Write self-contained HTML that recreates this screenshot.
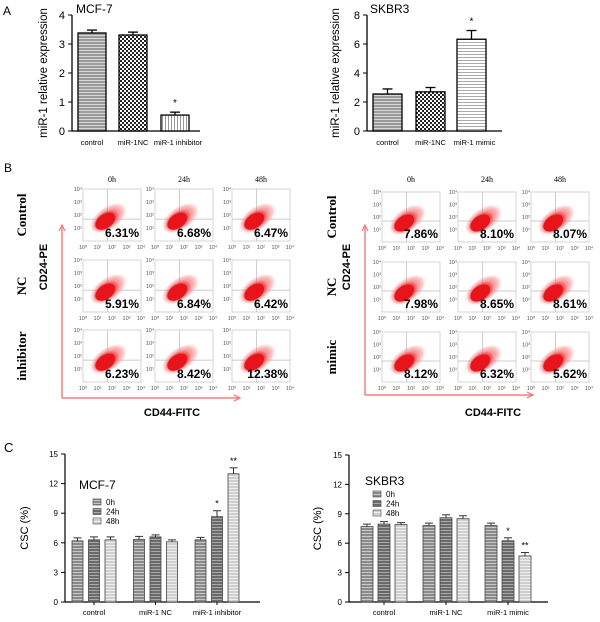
<!DOCTYPE html>
<html><head><meta charset="utf-8"><style>
body{margin:0;background:#fff;}
svg{display:block;font-family:"Liberation Sans",Arial,sans-serif;}
</style></head><body>
<svg id="fig" width="600" height="622" viewBox="0 0 600 622" xmlns="http://www.w3.org/2000/svg">
<defs>
<pattern id="pA1" width="4" height="3" patternUnits="userSpaceOnUse"><rect width="4" height="3" fill="#9a9a9a"/><rect y="2" width="4" height="1" fill="#d8d8d8"/></pattern>
<pattern id="pA2" width="4" height="4" patternUnits="userSpaceOnUse"><rect width="4" height="4" fill="#fff"/><rect width="2" height="2" fill="#222"/><rect x="2" y="2" width="2" height="2" fill="#222"/></pattern>
<pattern id="pA3" width="3" height="4" patternUnits="userSpaceOnUse"><rect width="3" height="4" fill="#fff"/><rect width="1" height="4" fill="#999"/></pattern>
<pattern id="pA4" width="4" height="3" patternUnits="userSpaceOnUse"><rect width="4" height="3" fill="#fff"/><rect width="4" height="1" fill="#aaa"/></pattern>
<pattern id="pC0" width="4" height="3" patternUnits="userSpaceOnUse"><rect width="4" height="3" fill="#8a8a8a"/><rect y="2" width="4" height="1" fill="#c8c8c8"/></pattern>
<pattern id="pC1" width="4" height="3" patternUnits="userSpaceOnUse"><rect width="4" height="3" fill="#6a6a6a"/><rect y="2" width="4" height="1" fill="#a8a8a8"/></pattern>
<pattern id="pC2" width="4" height="3" patternUnits="userSpaceOnUse"><rect width="4" height="3" fill="#cfcfcf"/><rect y="2" width="4" height="1" fill="#eee"/></pattern>
<radialGradient id="blob"><stop offset="0" stop-color="#e8141c"/><stop offset="0.55" stop-color="#ea2a30"/><stop offset="0.8" stop-color="#f27070" stop-opacity="0.7"/><stop offset="1" stop-color="#fbd0d0" stop-opacity="0"/></radialGradient>
</defs>
<g id="root"></g>
</svg>
<script>
// Panel A data
const aCats = ["control","miR-1NC","miR-1 inhibitor"];
const aMcfVals = [3.38, 3.31, 0.55];
const aMcfErr = [0.1, 0.1, 0.1];
const aSkCats = ["control","miR-1NC","miR-1 mimic"];
const aSkVals = [2.55, 2.7, 6.33];
const aSkErr = [0.35, 0.3, 0.6];
const aMcfTicks = [0,1,2,3,4];
const aSkTicks = [0,2,4,6,8];
// Panel B data
const bTimes = ["0h","24h","48h"];
const bMcfRows = ["Control","NC","inhibitor"];
const bMcfPct = [["6.31%","6.68%","6.47%"],["5.91%","6.84%","6.42%"],["6.23%","8.42%","12.38%"]];
const bSkRows = ["Control","NC","mimic"];
const bSkPct = [["7.86%","8.10%","8.07%"],["7.98%","8.65%","8.61%"],["8.12%","6.32%","5.62%"]];
// Panel C data
const cMcfCats = ["control","miR-1 NC","miR-1 inhibitor"];
const cMcfVals = [[6.2,6.3,6.3],[6.35,6.6,6.1],[6.3,8.65,13.0]];
const cMcfErr = [[0.3,0.3,0.3],[0.3,0.2,0.2],[0.25,0.6,0.6]];
const cMcfSig = [["","",""],["","",""],["","*","**"]];
const cSkCats = ["control","miR-1 NC","miR-1 mimic"];
const cSkVals = [[7.7,7.95,7.9],[7.8,8.6,8.5],[7.8,6.25,4.7]];
const cSkErr = [[0.25,0.25,0.2],[0.25,0.3,0.3],[0.25,0.3,0.35]];
const cSkSig = [["","",""],["","",""],["","*","**"]];
const cTicks = [0,3,6,9,12,15];
const cSeries = ["0h","24h","48h"];

const NS="http://www.w3.org/2000/svg";
const root=document.getElementById('root');
function el(tag,attrs,parent,text){const e=document.createElementNS(NS,tag);for(const k in attrs)e.setAttribute(k,attrs[k]);if(text!==undefined)e.textContent=text;(parent||root).appendChild(e);return e;}

// ---------- Panel A ----------
function panelA(o){
  const g=el('g',{});
  
  
  const y=v=>o.y0-(v/o.max)*(o.y0-o.y1);
  el('line',{x1:o.ax,y1:o.y1,x2:o.ax,y2:o.y0,stroke:'#000','stroke-width':1.3},g);
  el('line',{x1:o.ax,y1:o.y0,x2:o.axEnd,y2:o.y0,stroke:'#000','stroke-width':1.3},g);
  o.ticks.forEach(t=>{
    el('line',{x1:o.ax-4,y1:y(t),x2:o.ax,y2:y(t),stroke:'#000'},g);
    const tl=el('text',{x:o.ax-7,y:y(t)+4,'font-size':11,'text-anchor':'end'},g,String(t));
    
    
  });
  o.vals.forEach((v,i)=>{
    const x=o.bx[i];
    const b=el('rect',{x:x,y:y(v),width:o.bw,height:o.y0-y(v),fill:`url(#${o.pats[i]})`,stroke:'#000','stroke-width':1.3},g);
    
    
    const cx=x+o.bw/2, ye=y(v+o.err[i]);
    el('line',{x1:cx,y1:y(v),x2:cx,y2:ye,stroke:'#000','stroke-width':1.3},g);
    el('line',{x1:cx-5,y1:ye,x2:cx+5,y2:ye,stroke:'#000','stroke-width':1.3},g);
    if(o.sig[i]) el('text',{x:cx,y:ye-6,'font-size':10,'text-anchor':'middle'},g,o.sig[i]);
    const lab=el('text',{x:cx+(i==2?3:0),y:o.y0+14,'font-size':7.5,'text-anchor':'middle'},g,o.cats[i]);
    
    
  });
  const t=el('text',{x:o.tx,y:13,'font-size':12},g,o.title);
  
  
  const yt=el('text',{x:0,y:0,'font-size':11.5,'text-anchor':'middle',transform:`translate(${o.ytx},${(o.y0+o.y1)/2}) rotate(-90)`},g,'miR-1 relative expression');
  
  
}
const la=el('text',{x:3,y:15,'font-size':12},root,'A');


panelA({name:'chart-a-mcf7',ax:72,axEnd:200,y0:131,y1:15,max:4,ticks:aMcfTicks,vals:aMcfVals,err:aMcfErr,cats:aCats,bx:[78,119,161],bw:28,pats:['pA1','pA2','pA3'],sig:['','','*'],title:'MCF-7',tx:76,ytx:47});
panelA({name:'chart-a-skbr3',ax:367,axEnd:502,y0:131,y1:15,max:8,ticks:aSkTicks,vals:aSkVals,err:aSkErr,cats:aSkCats,bx:[373,416,457],bw:29,pats:['pA1','pA2','pA4'],sig:['','','*'],title:'SKBR3',tx:370,ytx:339});

// ---------- Panel B ----------
const lb=el('text',{x:4,y:172,'font-size':12},root,'B');


function panelB(o){
  const g=el('g',{});
  
  
  bTimes.forEach((t,c)=>{
    const h=el('text',{x:o.cols[c]+o.bw/2,y:182,'font-size':8,'font-family':'Liberation Serif,serif','text-anchor':'middle'},g,t);
    
    
  });
  o.rowsL.forEach((r,ri)=>{
    const cy=o.rows[ri]+o.bh/2;
    const rl=el('text',{x:0,y:0,'font-size':13,'font-weight':'bold','font-family':'Liberation Serif,serif','text-anchor':'middle',transform:`translate(${o.rlx},${cy}) rotate(-90)`},g,r);
    
    
    bTimes.forEach((t,c)=>{
      const x=o.cols[c], y=o.rows[ri];
      const pg=el('g',{},g);
      
      
      el('rect',{x:x,y:y,width:o.bw,height:o.bh,fill:'#fff',stroke:'#ccc','stroke-width':0.8},pg);
      el('line',{x1:x+o.bw*0.42,y1:y,x2:x+o.bw*0.42,y2:y+o.bh,stroke:'#bbb','stroke-width':0.7},pg);
      el('line',{x1:x,y1:y+o.bh*0.58,x2:x+o.bw,y2:y+o.bh*0.58,stroke:'#bbb','stroke-width':0.7},pg);
      const bx=x+o.bw*0.4, by=y+o.bh*0.6;
      el('ellipse',{cx:bx+2,cy:by-2,rx:22,ry:12,fill:'url(#blob)',opacity:0.5,transform:`rotate(-35 ${bx+2} ${by-2})`},pg);
      el('ellipse',{cx:bx,cy:by,rx:16,ry:9.5,fill:'url(#blob)',transform:`rotate(-35 ${bx} ${by})`},pg);
      el('ellipse',{cx:bx-1,cy:by+1,rx:11,ry:7,fill:'#e8141c',transform:`rotate(-35 ${bx-1} ${by+1})`},pg);
      const p=el('text',{x:x+o.bw-2,y:y+o.bh-4,'font-size':12,'font-weight':'bold','text-anchor':'end'},pg,o.pct[ri][c]);
      
      
      ['10⁰','10¹','10²','10³','10⁴'].forEach((s,k)=>{
        el('text',{x:x+k*o.bw/4,y:y+o.bh+8,'font-size':5.5,fill:'#555','text-anchor':'middle'},pg,s);
        if(k>0) el('text',{x:x-5,y:y+o.bh-k*o.bh/4+2,'font-size':5.5,fill:'#555','text-anchor':'middle'},pg,s);
      });
    });
  });
  el('line',{x1:o.axx,y1:o.axTop,x2:o.axx,y2:o.axBot,stroke:'#f08080','stroke-width':1.5},g);
  el('line',{x1:o.axx,y1:o.axBot,x2:o.axEnd,y2:o.axBot,stroke:'#f08080','stroke-width':1.5},g);
  el('path',{d:`M${o.axx-3},${o.axTop+6} L${o.axx},${o.axTop} L${o.axx+3},${o.axTop+6}`,fill:'none',stroke:'#f08080','stroke-width':1.3},g);
  el('path',{d:`M${o.axEnd-6},${o.axBot-3} L${o.axEnd},${o.axBot} L${o.axEnd-6},${o.axBot+3}`,fill:'none',stroke:'#f08080','stroke-width':1.3},g);
  const yl=el('text',{x:0,y:0,'font-size':11,'font-weight':'bold','text-anchor':'middle',transform:`translate(${o.ylx},267) rotate(-90)`},g,'CD24-PE');
  
  
  const xl=el('text',{x:o.xlx,y:416,'font-size':11,'font-weight':'bold','text-anchor':'middle'},g,'CD44-FITC');
  
  
}
panelB({name:'flow-mcf7',cols:[83,155,232],rows:[189,260,330],bw:58,bh:52,rowsL:bMcfRows,pct:bMcfPct,rlx:26,ylx:47,axx:62,axTop:225,axBot:398,axEnd:240,xlx:172});
panelB({name:'flow-skbr3',cols:[382,458,531],rows:[192,262,332],bw:58,bh:50,rowsL:bSkRows,pct:bSkPct,rlx:336,ylx:350,axx:365,axTop:225,axBot:395,axEnd:533,xlx:493});

// ---------- Panel C ----------
const lc=el('text',{x:4,y:452,'font-size':13},root,'C');


function panelC(o){
  const g=el('g',{});
  
  
  const y=v=>o.y0-(v/15)*(o.y0-o.y1);
  el('line',{x1:o.ax,y1:o.y1,x2:o.ax,y2:o.y0,stroke:'#000','stroke-width':1.2},g);
  el('line',{x1:o.ax,y1:o.y0,x2:o.axEnd,y2:o.y0,stroke:'#000','stroke-width':1.2},g);
  cTicks.forEach(t=>{
    el('line',{x1:o.ax-4,y1:y(t),x2:o.ax,y2:y(t),stroke:'#000'},g);
    const tl=el('text',{x:o.ax-7,y:y(t)+3,'font-size':8,'text-anchor':'end'},g,String(t));
    
    
  });
  o.vals.forEach((grp,gi)=>{
    const gx=o.g0+gi*o.gs;
    grp.forEach((v,si)=>{
      const x=gx+si*o.ss;
      const b=el('rect',{x:x,y:y(v),width:o.bw,height:o.y0-y(v),fill:`url(#pC${si})`,stroke:'#444','stroke-width':0.8},g);
      
      
      const cx=x+o.bw/2, ye=y(v+o.err[gi][si]);
      el('line',{x1:cx,y1:y(v),x2:cx,y2:ye,stroke:'#333','stroke-width':1},g);
      el('line',{x1:cx-4,y1:ye,x2:cx+4,y2:ye,stroke:'#333','stroke-width':1},g);
      if(o.sig[gi][si]) el('text',{x:cx,y:ye-4,'font-size':9,'text-anchor':'middle'},g,o.sig[gi][si]);
    });
    const mid=gx+o.ss+o.bw/2;
    el('line',{x1:mid,y1:o.y0,x2:mid,y2:o.y0+3,stroke:'#000'},g);
    const lab=el('text',{x:mid,y:o.y0+13,'font-size':7.5,'text-anchor':'middle'},g,o.cats[gi]);
    
    
  });
  const t=el('text',{x:o.tx,y:o.ty,'font-size':12},g,o.title);
  
  
  cSeries.forEach((s,si)=>{
    const lg=el('g',{},g);
    
    
    el('rect',{x:o.lx,y:o.ly+si*9.5-6,width:8,height:6,fill:`url(#pC${si})`,stroke:'#444','stroke-width':0.6},lg);
    el('text',{x:o.lx+13,y:o.ly+si*9.5,'font-size':8},lg,s);
  });
  const yt=el('text',{x:0,y:0,'font-size':11,'text-anchor':'middle',transform:`translate(${o.ytx},${(o.y0+o.y1)/2}) rotate(-90)`},g,'CSC (%)');
  
  
}
panelC({name:'chart-c-mcf7',ax:65,axEnd:260,y0:602,y1:454,vals:cMcfVals,err:cMcfErr,sig:cMcfSig,cats:cMcfCats,g0:72,gs:61.5,ss:16.5,bw:11,title:'MCF-7',tx:79,ty:489,lx:93,ly:505,ytx:28});
panelC({name:'chart-c-skbr3',ax:349,axEnd:548,y0:602,y1:455,vals:cSkVals,err:cSkErr,sig:cSkSig,cats:cSkCats,g0:361,gs:62,ss:17,bw:12,title:'SKBR3',tx:365,ty:485,lx:373,ly:497,ytx:321});
</script>
</body></html>
